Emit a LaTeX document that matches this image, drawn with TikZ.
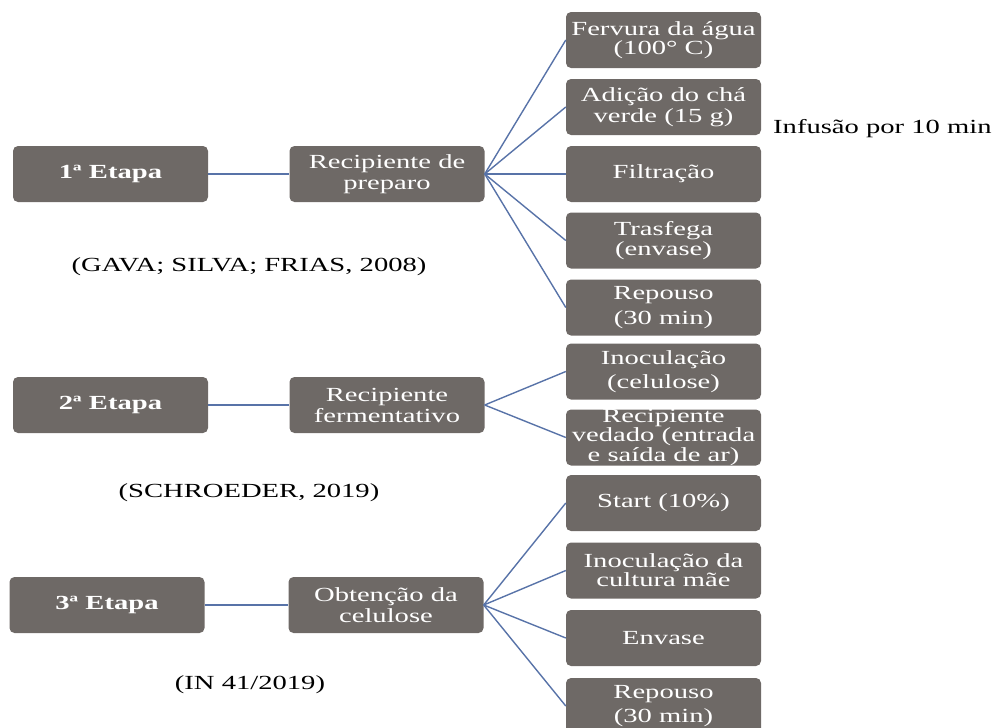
\documentclass[tikz,border=0pt]{standalone}
\usepackage{fontspec}
\setmainfont{Liberation Serif}[FakeStretch=1.43]
\definecolor{boxgrey}{HTML}{6E6966}
\definecolor{linkblue}{HTML}{5873A8}
\begin{document}
\begin{tikzpicture}[x=1pt,y=-1pt,
  box/.style={fill=boxgrey, rounded corners=5pt, minimum width=195pt, minimum height=56pt,
    text=white, align=center, inner sep=0pt, font=\fontsize{20}{21}\selectfont},
  wide/.style={font=\fontsize{20}{24.5}\selectfont},
  tight/.style={font=\fontsize{20}{17.5}\selectfont},
  etapa/.style={box, font=\bfseries\fontsize{20}{21}\selectfont},
  link/.style={draw=linkblue, line width=1.4pt},
  cite/.style={font=\fontsize{20}{21}\selectfont, text=black, inner sep=0pt}]
\useasboundingbox (0,0) rectangle (993,728);

% Stage 1
\node[etapa] (e1) at (110.5,174) {1ª Etapa};
\node[box] (m1) at (387,174) {Recipiente de\\preparo};
\node[box,tight] (f1) at (663.5,40) {Fervura da água\\(100° C)};
\node[box] (f2) at (663.5,107) {Adição do chá\\verde (15 g)};
\node[box] (f3) at (663.5,174) {Filtração};
\node[box,tight] (f4) at (663.5,240.5) {Trasfega\\(envase)};
\node[box,wide] (f5) at (663.5,307.5) {Repouso\\(30 min)};
\node[cite,anchor=base west] (inf) at (773,133) {Infusão por 10 min};
\node[cite] (c1) at (249,267) {(GAVA; SILVA; FRIAS, 2008)};

% Stage 2
\node[etapa] (e2) at (110.5,405) {2ª Etapa};
\node[box] (m2) at (387,405) {Recipiente\\fermentativo};
\node[box,wide] (g1) at (663.5,371.5) {Inoculação\\(celulose)};
\node[box,tight] (g2) at (663.5,437.5) {Recipiente\\vedado (entrada\\e saída de ar)};
\node[cite] (c2) at (249,493) {(SCHROEDER, 2019)};

% Stage 3
\node[etapa] (e3) at (107,605) {3ª Etapa};
\node[box] (m3) at (386,605) {Obtenção da\\celulose};
\node[box] (h1) at (663.5,503) {Start (10\%)};
\node[box,tight] (h2) at (663.5,570.5) {Inoculação da\\cultura mãe};
\node[box] (h3) at (663.5,638) {Envase};
\node[box,wide] (h4) at (663.5,706) {Repouso\\(30 min)};
\node[cite] (c3) at (250,685) {(IN 41/2019)};

% Connectors
\draw[link] (e1.east) -- (m1.west);
\foreach \t in {f1,f2,f3,f4,f5} \draw[link] (m1.east) -- (\t.west);
\draw[link] (e2.east) -- (m2.west);
\foreach \t in {g1,g2} \draw[link] (m2.east) -- (\t.west);
\draw[link] (e3.east) -- (m3.west);
\foreach \t in {h1,h2,h3,h4} \draw[link] (m3.east) -- (\t.west);
\end{tikzpicture}
\end{document}
